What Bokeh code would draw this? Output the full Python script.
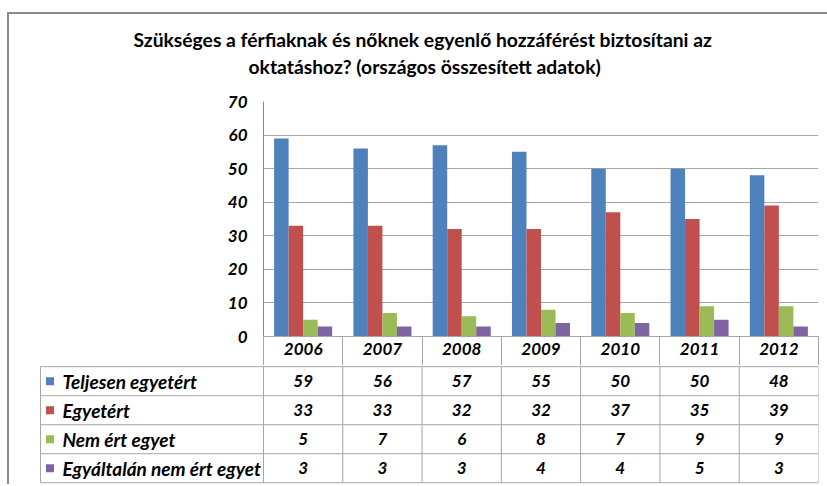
from bokeh.plotting import figure
from bokeh.models import Range1d, FixedTicker, ColumnDataSource, Title, LinearAxis
from bokeh.layouts import column
from bokeh.core.properties import value
from bokeh.embed import file_html
from bokeh.resources import INLINE

# ---- data ----
years = ["2006", "2007", "2008", "2009", "2010", "2011", "2012"]
series_names = ["Teljesen egyetért", "Egyetért", "Nem ért egyet", "Egyáltalán nem ért egyet"]
teljesen = [59, 56, 57, 55, 50, 50, 48]
egyetert = [33, 33, 32, 32, 37, 35, 39]
nem_ert = [5, 7, 6, 8, 7, 9, 9]
egyaltalan = [3, 3, 3, 4, 4, 5, 3]
y_ticks = [0, 10, 20, 30, 40, 50, 60, 70]
title_line1 = "Szükséges a férfiaknak és nőknek egyenlő hozzáférést biztosítani az"
title_line2 = "oktatáshoz? (országos összesített adatok)"

series_values = [teljesen, egyetert, nem_ert, egyaltalan]
colors = ["#4F81BD", "#C0504D", "#9BBB59", "#8064A2"]
FONT = "Lato"
GRID = "#A6A6A6"
ncol = len(years)
nrow = len(series_names)

# ---- chart ----
bw = 0.183
offsets = [-1.5 * bw, -0.5 * bw, 0.5 * bw, 1.5 * bw]
centers = [i + 0.5 for i in range(ncol)]
p = figure(width=818, height=351, x_range=Range1d(0, ncol), y_range=Range1d(0, 70),
           output_backend="svg", toolbar_location=None,
           min_border_left=254, min_border_right=9, min_border_top=87, min_border_bottom=29)
p.frame_align = False
for i, c in enumerate(colors):
    src = ColumnDataSource(dict(x=[cx + offsets[i] for cx in centers], top=series_values[i]))
    p.vbar(x="x", top="top", width=bw, source=src, fill_color=c, line_color=None)

p.outline_line_color = None
p.xgrid.visible = False
p.ygrid.ticker = FixedTicker(ticks=y_ticks[1:])
p.ygrid.grid_line_color = GRID

ay = p.yaxis[0]
ay.ticker = FixedTicker(ticks=y_ticks)
ay.axis_line_color = "#868686"
ay.major_tick_line_color = None
ay.minor_tick_line_color = None
ay.major_tick_out = 0
ay.major_tick_in = 0
ay.major_label_standoff = 16
ay.major_label_text_font = FONT
ay.major_label_text_font_size = "17px"
ay.major_label_text_font_style = "bold italic"
ay.major_label_text_color = "#000000"

ax = p.xaxis[0]
ax.ticker = FixedTicker(ticks=centers, minor_ticks=list(range(ncol + 1)))
ax.major_label_overrides = {c: y for c, y in zip(centers, years)}
ax.axis_line_color = GRID
ax.major_tick_line_color = None
ax.major_tick_out = 0
ax.major_tick_in = 0
ax.minor_tick_line_color = GRID
ax.minor_tick_out = 29
ax.minor_tick_in = 0
ax.major_label_standoff = -23
ax.major_label_text_font = FONT
ax.major_label_text_font_size = "17px"
ax.major_label_text_font_style = "bold italic"
ax.major_label_text_color = "#000000"

# invisible spacer between the plot area and the title lines (nearest panel)
spacer = LinearAxis(ticker=FixedTicker(ticks=[centers[3]]), axis_line_color=None,
                    major_tick_line_color=None, minor_tick_line_color=None,
                    major_tick_out=22, major_tick_in=0, major_label_overrides={centers[3]: ""},
                    major_label_text_font_size="0px", major_label_standoff=0)
p.add_layout(spacer, "above")

# title lines
title_style = dict(text_font=FONT, text_font_size="19.3px", text_font_style="bold",
                   text_color="#000000", align="left", vertical_align="middle", standoff=2)
p.add_layout(Title(text=title_line2, offset=-15, **title_style), "above")
p.title.text = title_line1
p.title.offset = -130
for k, v in title_style.items():
    setattr(p.title, k, v)

# ---- data table ----
label_left = -2.8125
q = figure(width=818, height=119, x_range=Range1d(-2.825, ncol), y_range=Range1d(nrow + 0.06, -0.04),
           x_axis_type=None, y_axis_type=None, output_backend="svg", toolbar_location=None,
           min_border_left=30, min_border_right=9, min_border_top=0, min_border_bottom=0)
q.frame_align = False
q.outline_line_color = None
q.grid.visible = False

hy = list(range(nrow + 1))
q.segment(x0=[label_left] * (nrow + 1), x1=[ncol] * (nrow + 1), y0=hy, y1=hy, line_color=GRID, line_width=1)
vx = [label_left] + list(range(ncol + 1))
q.segment(x0=vx, x1=vx, y0=[0] * len(vx), y1=[nrow] * len(vx), line_color=GRID, line_width=1)

txt = dict(text_font=value(FONT), text_font_style="bold italic",
           text_color="#000000", text_baseline="middle")
for r, vals in enumerate(series_values):
    q.text(x=centers, y=[r + 0.5] * ncol, text=[str(v) for v in vals],
           text_align="center", text_font_size="17px", **txt)
q.text(x=[label_left] * nrow, y=[r + 0.5 for r in range(nrow)], text=series_names,
       text_align="left", x_offset=22, text_font_size="19px", **txt)
q.rect(x=[label_left + 0.12] * nrow, y=[r + 0.5 for r in range(nrow)], width=8, height=8,
       width_units="screen", height_units="screen", fill_color=colors, line_color=None)

layout = column(p, q, styles={"border-top": "2px solid #8a8a8a", "border-left": "2px solid #8a8a8a",
                              "margin-top": "12px", "margin-left": "7px"})
open("out.html", "w").write(file_html(layout, INLINE))
